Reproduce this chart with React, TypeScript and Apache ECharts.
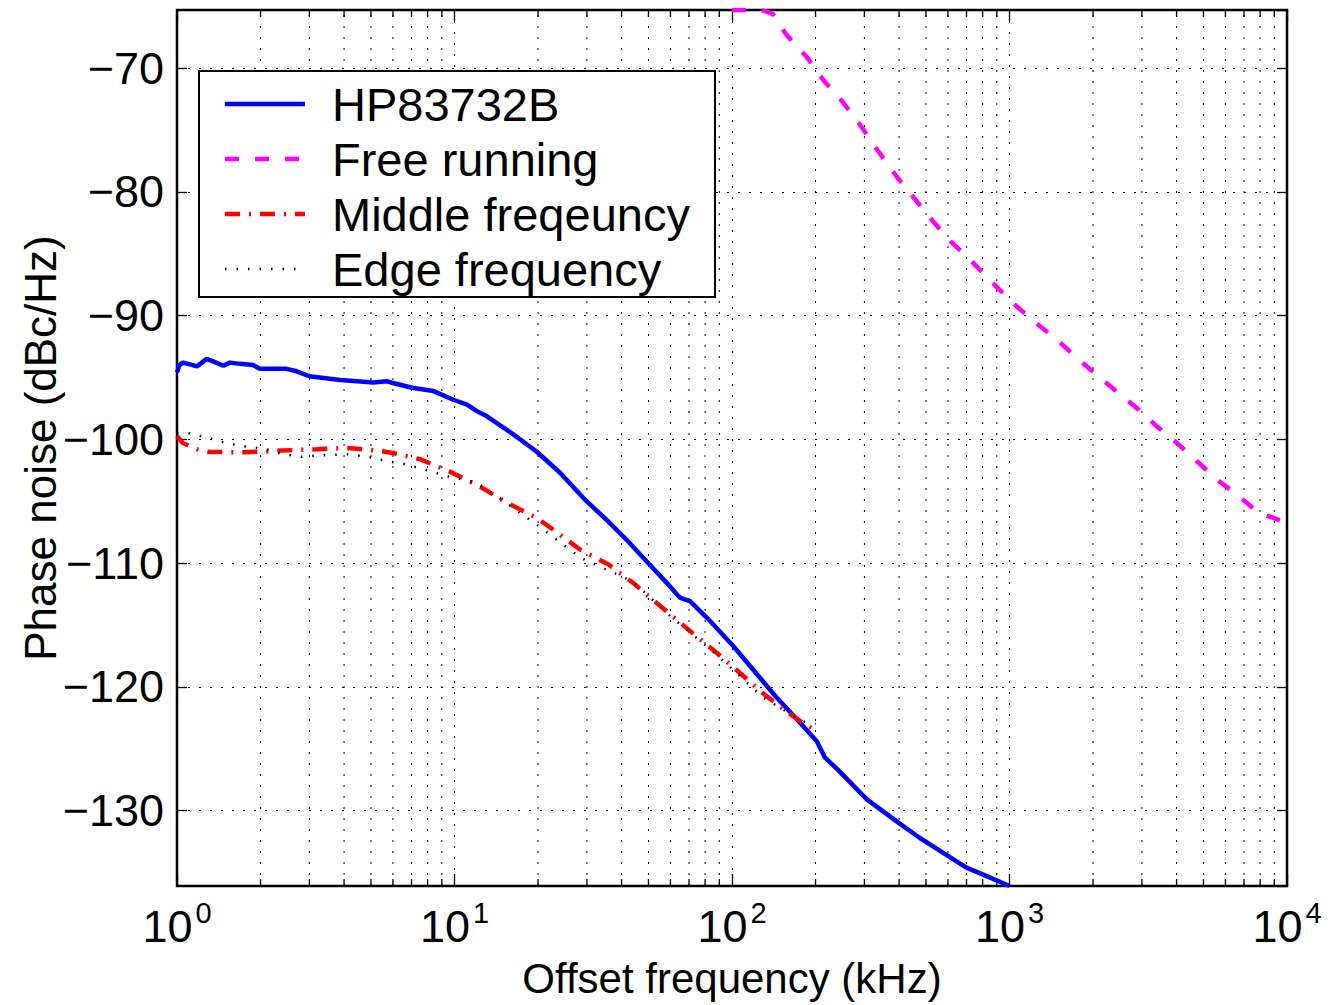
import React, { useEffect, useRef } from "react";
import * as echarts from "echarts";

const FONT = '"Liberation Sans", Arial, Helvetica, sans-serif';

// Axis extents (tight to data)
const X_MIN = 1;
const X_MAX = 10000;
const Y_MIN = -136.1;
const Y_MAX = -65.3;

// Tick definitions
const yTickValues = [-130, -120, -110, -100, -90, -80, -70];
const xTickExponents = [0, 1, 2, 3, 4];
const minorMultipliers = [2, 3, 4, 5, 6, 7, 8, 9];
const minorDecades = [1, 10, 100, 1000];

// HP83732B (kHz, dBc/Hz)
const hpFreq = [1, 1.02, 1.05, 1.14, 1.18, 1.28, 1.35, 1.47, 1.55, 1.69, 1.88, 1.99, 2.48, 2.7, 3.0, 3.87, 5.1, 5.7, 6.0, 7.1, 8.4, 9.9, 11.1, 12.0, 13.0, 16.3, 19.8, 24.0, 29.9, 35.3, 41.6, 49.2, 58.2, 64.9, 70.7, 83.5, 101, 119, 144, 171, 202, 216, 243, 306, 393, 474, 575, 697, 848, 1000];
const hpVal = [-94.6, -94.0, -93.8, -94.0, -94.1, -93.5, -93.7, -94.05, -93.8, -93.9, -94.0, -94.3, -94.3, -94.5, -94.9, -95.2, -95.4, -95.3, -95.45, -95.85, -96.1, -96.8, -97.2, -97.7, -98.1, -99.6, -101.0, -102.7, -105.0, -106.5, -108.1, -109.85, -111.6, -112.8, -113.1, -114.7, -116.7, -118.6, -120.8, -122.6, -124.4, -125.7, -126.8, -129.1, -130.9, -132.2, -133.4, -134.6, -135.4, -136.1];

// Free running
const freeFreq = [100, 108, 128, 140, 157, 186, 214, 250, 290, 336, 393, 457, 531, 614, 729, 848, 1030, 1247, 1475, 1746, 2088, 2468, 2921, 3394, 4015, 4751, 5622, 6725, 7850, 9580, 10000];
const freeVal = [-65.3, -65.3, -65.3, -65.6, -67.3, -69.1, -71.0, -72.7, -74.6, -76.7, -78.8, -80.6, -82.4, -84.0, -85.6, -87.1, -89.0, -90.6, -91.9, -93.4, -94.9, -96.25, -97.6, -98.95, -100.3, -101.8, -103.3, -104.6, -105.9, -106.6, -107.3];

// Middle frequency
const midFreq = [1, 1.05, 1.18, 1.3, 1.6, 2.0, 2.4, 3.2, 4.1, 5.25, 6.0, 7.5, 9.6, 12.3, 15.4, 19.8, 23, 28.3, 35.8, 44, 53.4, 70.7, 88, 107, 129, 157, 185, 200];
const midVal = [-99.75, -100.3, -100.8, -101.0, -101.05, -101.0, -100.9, -100.8, -100.7, -100.9, -101.1, -101.6, -102.6, -103.8, -105.1, -106.35, -107.4, -108.9, -110.1, -111.6, -113.2, -115.5, -117.25, -118.9, -120.5, -122.0, -123.1, -123.5];

// Edge frequency
const edgeFreq = [1, 1.1, 1.2, 1.3, 1.5, 1.8, 2.1, 2.4, 2.8, 3.3, 4.2, 5.1, 5.8, 6.6, 7.7, 9.5, 12, 14, 19.8, 28.6, 44, 60, 88, 130, 180, 200];
const edgeVal = [-99.5, -99.5, -99.7, -99.9, -100.3, -100.6, -100.8, -101.2, -101.4, -101.3, -101.2, -101.5, -101.8, -102.0, -102.4, -103.0, -103.5, -104.5, -106.9, -109.6, -111.5, -114.3, -117.4, -120.9, -122.8, -123.0];

const seriesNames = ["HP83732B", "Free running", "Middle freqeuncy", "Edge frequency"];
const seriesColors = ["#0000ff", "#ff00ff", "#ff0000", "#000000"];
const seriesWidths = [4.5, 4.5, 4.5, 2.5];
const seriesDash: (number[] | "solid")[] = ["solid", [14, 16], [15, 9, 2, 9], [1.5, 10]];

const zip = (a: number[], b: number[]) => a.map((v, i) => [v, b[i]]);

export default function App() {
  const ref = useRef<HTMLDivElement>(null);

  useEffect(() => {
    document.body.style.margin = "0";
    const chart = echarts.init(ref.current!, null, { renderer: "svg" });

    const minorX: number[][] = [];
    minorDecades.forEach((d) => minorMultipliers.forEach((m) => minorX.push([d * m, Y_MIN])));

    const gridDash = [2, 9];
    const datasets = [zip(hpFreq, hpVal), zip(freeFreq, freeVal), zip(midFreq, midVal), zip(edgeFreq, edgeVal)];

    const lineSeries = datasets.map((data, i) => ({
      type: "line",
      name: seriesNames[i],
      data,
      showSymbol: false,
      symbol: "none",
      clip: true,
      z: 3 + i,
      lineStyle: { color: seriesColors[i], width: seriesWidths[i], type: seriesDash[i], cap: "butt" },
    }));

    // legend graphic
    const legX = 199, legY = 71, legW = 516, legH = 226;
    const rowY = [104, 159, 214, 269];
    const legendEls: any[] = [
      { type: "rect", shape: { x: legX, y: legY, width: legW, height: legH }, style: { fill: "#fff", stroke: "#000", lineWidth: 2 }, z: 100 },
    ];
    seriesNames.forEach((n, i) => {
      legendEls.push({
        type: "line",
        shape: { x1: 225, y1: rowY[i], x2: 305, y2: rowY[i] },
        style: { stroke: seriesColors[i], lineWidth: seriesWidths[i], lineDash: seriesDash[i] === "solid" ? null : seriesDash[i] },
        z: 101,
      });
      legendEls.push({
        type: "text",
        x: 332,
        y: rowY[i],
        style: { text: n, fill: "#000", font: `47px ${FONT}`, fontSize: 47, fontFamily: FONT, textAlign: "left", align: "left", textVerticalAlign: "middle", verticalAlign: "middle" },
        z: 101,
      });
    });

    const option: any = {
      animation: false,
      backgroundColor: "#fff",
      textStyle: { fontFamily: FONT, color: "#000" },
      grid: { left: 177, right: 53, top: 10, bottom: 119, show: true, borderColor: "#000", borderWidth: 2.5, backgroundColor: "transparent", containLabel: false },
      xAxis: [
        {
          type: "log",
          logBase: 10,
          min: X_MIN,
          max: X_MAX,
          position: "bottom",
          name: "Offset frequency (kHz)",
          nameLocation: "middle",
          nameGap: 71,
          nameMoveOverlap: false,
          nameTextStyle: { fontSize: 42, fontFamily: FONT, color: "#000" },
          axisLine: { show: false },
          axisTick: { show: true, inside: true, length: 12, lineStyle: { color: "#000", width: 1.3 } },
          splitLine: { show: true, lineStyle: { color: "#000", width: 1, type: gridDash } },
          minorTick: { show: false },
          axisLabel: {
            margin: 12,
            formatter: (v: number) => `{b|10}{s|${xTickExponents[Math.round(Math.log10(v))]}}`,
            rich: {
              b: { fontSize: 45, fontFamily: FONT, color: "#000", lineHeight: 44, padding: [12, 0, 0, 0] },
              s: { fontSize: 29, fontFamily: FONT, color: "#000", verticalAlign: "top", lineHeight: 29, padding: [0, 0, 0, 3] },
            },
          },
        },
        {
          type: "log",
          logBase: 10,
          min: X_MIN,
          max: X_MAX,
          position: "top",
          axisLine: { show: false },
          axisTick: { show: true, inside: true, length: 12, lineStyle: { color: "#000", width: 1.3 } },
          axisLabel: { show: false },
          splitLine: { show: false },
        },
      ],
      yAxis: [
        {
          type: "value",
          min: Y_MIN,
          max: Y_MAX,
          minInterval: 10,
          maxInterval: 10,
          splitNumber: 7,
          position: "left",
          name: "Phase noise (dBc/Hz)",
          nameLocation: "middle",
          nameGap: 115,
          nameMoveOverlap: false,
          nameTextStyle: { fontSize: 44, fontFamily: FONT, color: "#000" },
          axisLine: { show: false },
          axisTick: { show: true, inside: true, length: 10, lineStyle: { color: "#000", width: 1.3 } },
          splitLine: { show: true, lineStyle: { color: "#000", width: 1, type: gridDash } },
          axisLabel: {
            margin: 13,
            fontSize: 45,
            fontFamily: FONT,
            color: "#000",
            showMinLabel: false,
            showMaxLabel: false,
            formatter: (v: number) => (yTickValues.includes(Math.round(v)) && Math.abs(v - Math.round(v)) < 1e-6 ? String(Math.round(v)).replace("-", "\u2212") : ""),
          },
        },
        {
          type: "value",
          min: Y_MIN,
          max: Y_MAX,
          minInterval: 10,
          maxInterval: 10,
          splitNumber: 7,
          position: "right",
          axisLine: { show: false },
          axisTick: { show: true, inside: true, length: 10, lineStyle: { color: "#000", width: 1.3 } },
          axisLabel: { show: false },
          splitLine: { show: false },
        },
      ],
      series: [
        {
          type: "custom",
          name: "minor-grid",
          coordinateSystem: "cartesian2d",
          xAxisIndex: 0,
          yAxisIndex: 0,
          data: minorX,
          clip: false,
          silent: true,
          z: 1,
          renderItem: (params: any, api: any) => {
            const x = api.value(0);
            const bot = api.coord([x, Y_MIN]);
            const top = api.coord([x, Y_MAX]);
            return {
              type: "group",
              children: [
                { type: "line", shape: { x1: bot[0], y1: bot[1], x2: top[0], y2: top[1] }, style: { stroke: "#000", lineWidth: 1, lineDash: gridDash } },
                { type: "line", shape: { x1: bot[0], y1: bot[1], x2: bot[0], y2: bot[1] - 7 }, style: { stroke: "#000", lineWidth: 1.3 } },
                { type: "line", shape: { x1: top[0], y1: top[1], x2: top[0], y2: top[1] + 7 }, style: { stroke: "#000", lineWidth: 1.3 } },
              ],
            };
          },
        },
        ...lineSeries,
      ],
      graphic: legendEls,
    };

    chart.setOption(option);
    return () => chart.dispose();
  }, []);

  return <div ref={ref} style={{ width: 1340, height: 1005 }} />;
}
